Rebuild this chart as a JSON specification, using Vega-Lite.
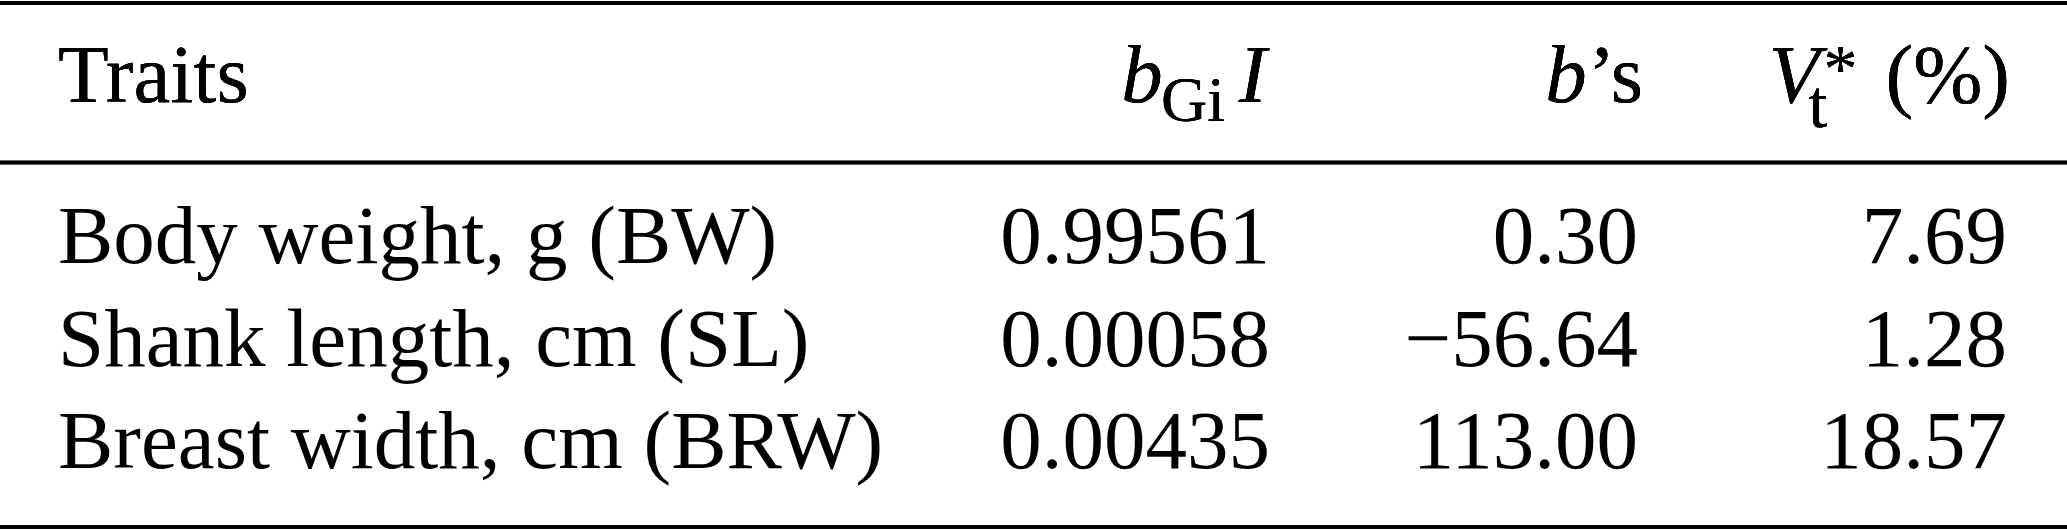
{
  "$schema": "https://vega.github.io/schema/vega-lite/v6.json",
  "width": 2067,
  "height": 530,
  "padding": 0,
  "autosize": {"type": "none"},
  "background": "white",
  "config": {
    "view": {"stroke": null},
    "font": "Liberation Serif",
    "text": {"font": "Liberation Serif", "fontSize": 83, "color": "black", "baseline": "alphabetic"},
    "rule": {"color": "black", "strokeWidth": 3.5}
  },
  "data": {
    "values": [
      {"row": 1, "trait": "Body weight, g (BW)", "bGiI": 0.99561, "bs": 0.30, "vt": 7.69},
      {"row": 2, "trait": "Shank length, cm (SL)", "bGiI": 0.00058, "bs": -56.64, "vt": 1.28},
      {"row": 3, "trait": "Breast width, cm (BRW)", "bGiI": 0.00435, "bs": 113.00, "vt": 18.57}
    ]
  },
  "layer": [
    {
      "mark": {"type": "rule"},
      "encoding": {"y": {"datum": -0.615, "type": "quantitative", "scale": {"domain": [0, 1, 2, 3], "range": [102, 263, 365.5, 468], "nice": false, "zero": false}, "axis": null}}
    },
    {
      "mark": {"type": "rule"},
      "encoding": {"y": {"datum": 0.376, "type": "quantitative"}}
    },
    {
      "mark": {"type": "rule"},
      "encoding": {"y": {"datum": 3.576, "type": "quantitative"}}
    },
    {
      "mark": {"type": "text", "align": "left"},
      "encoding": {
        "x": {"datum": 0, "type": "quantitative", "scale": {"domain": [0, 1, 2, 3], "range": [58, 1270, 1638, 2007], "nice": false, "zero": false}, "axis": null},
        "y": {"field": "row", "type": "quantitative"},
        "text": {"field": "trait"}
      }
    },
    {
      "mark": {"type": "text", "align": "right"},
      "encoding": {
        "x": {"datum": 1, "type": "quantitative"},
        "y": {"field": "row", "type": "quantitative"},
        "text": {"field": "bGiI", "type": "quantitative", "format": ".5f"}
      }
    },
    {
      "mark": {"type": "text", "align": "right"},
      "encoding": {
        "x": {"datum": 2, "type": "quantitative"},
        "y": {"field": "row", "type": "quantitative"},
        "text": {"field": "bs", "type": "quantitative", "format": ".2f"}
      }
    },
    {
      "mark": {"type": "text", "align": "right"},
      "encoding": {
        "x": {"datum": 3, "type": "quantitative"},
        "y": {"field": "row", "type": "quantitative"},
        "text": {"field": "vt", "type": "quantitative", "format": ".2f"}
      }
    },
    {
      "mark": {"type": "text", "align": "left", "text": "Traits"},
      "encoding": {"x": {"datum": 0, "type": "quantitative"}, "y": {"datum": 0, "type": "quantitative"}}
    },
    {
      "mark": {"type": "text", "align": "center", "text": "b", "fontStyle": "italic", "dx": -128},
      "encoding": {"x": {"datum": 1, "type": "quantitative"}, "y": {"datum": 0, "type": "quantitative"}}
    },
    {
      "mark": {"type": "text", "align": "center", "text": "Gi", "fontSize": 64, "dx": -77, "dy": 19},
      "encoding": {"x": {"datum": 1, "type": "quantitative"}, "y": {"datum": 0, "type": "quantitative"}}
    },
    {
      "mark": {"type": "text", "align": "center", "text": "I", "fontStyle": "italic", "dx": -17.5},
      "encoding": {"x": {"datum": 1, "type": "quantitative"}, "y": {"datum": 0, "type": "quantitative"}}
    },
    {
      "mark": {"type": "text", "align": "center", "text": "b", "fontStyle": "italic", "dx": -72},
      "encoding": {"x": {"datum": 2, "type": "quantitative"}, "y": {"datum": 0, "type": "quantitative"}}
    },
    {
      "mark": {"type": "text", "align": "right", "text": "’s", "dx": 5},
      "encoding": {"x": {"datum": 2, "type": "quantitative"}, "y": {"datum": 0, "type": "quantitative"}}
    },
    {
      "mark": {"type": "text", "align": "center", "text": "V", "fontStyle": "italic", "dx": -213},
      "encoding": {"x": {"datum": 3, "type": "quantitative"}, "y": {"datum": 0, "type": "quantitative"}}
    },
    {
      "mark": {"type": "text", "align": "center", "text": "t", "fontSize": 68, "dx": -189, "dy": 25},
      "encoding": {"x": {"datum": 3, "type": "quantitative"}, "y": {"datum": 0, "type": "quantitative"}}
    },
    {
      "mark": {"type": "text", "align": "center", "text": "*", "fontSize": 68, "dx": -166.5, "dy": -11},
      "encoding": {"x": {"datum": 3, "type": "quantitative"}, "y": {"datum": 0, "type": "quantitative"}}
    },
    {
      "mark": {"type": "text", "align": "right", "text": "(%)", "dx": 3},
      "encoding": {"x": {"datum": 3, "type": "quantitative"}, "y": {"datum": 0, "type": "quantitative"}}
    }
  ]
}
